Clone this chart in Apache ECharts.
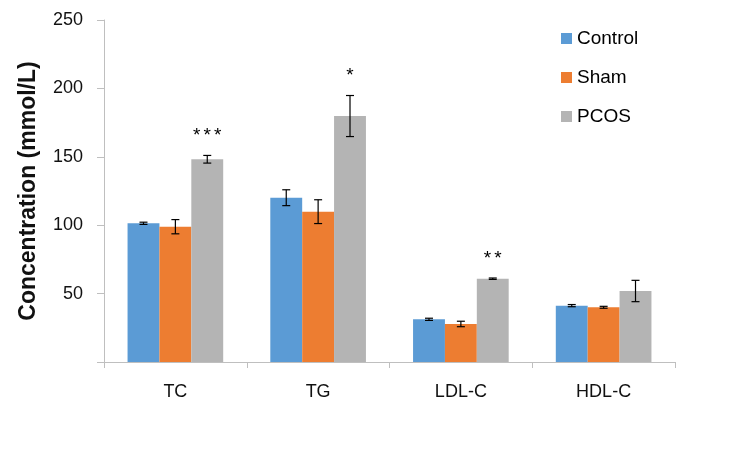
<!DOCTYPE html>
<html><head><meta charset="utf-8">
<script src="https://cdn.jsdelivr.net/npm/echarts@6/dist/echarts.min.js"></script>
<style>html,body{margin:0;padding:0;background:#fff}#c{width:756px;height:450px}</style>
</head><body><div id="c"></div>
<script>
var categories = ['TC', 'TG', 'LDL-C', 'HDL-C'];
var seriesNames = ['Control', 'Sham', 'PCOS'];
var controlVals = [101.4, 120.1, 31.2, 41.2];
var controlErr = [0.8, 5.8, 0.8, 0.8];
var shamVals = [98.9, 109.9, 27.8, 40.0];
var shamErr = [5.2, 8.7, 2.0, 0.7];
var pcosVals = [148.2, 179.8, 60.9, 51.9];
var pcosErr = [2.8, 15.0, 0.5, 7.8];
var sigMarks = ['***', '*', '**', ''];
var yTicks = [0, 50, 100, 150, 200, 250];
var colors = ['#5B9BD5', '#ED7D31', '#B4B4B4'];
var FONT = 'Liberation Sans';

var vals = [controlVals, shamVals, pcosVals];
var errs = [controlErr, shamErr, pcosErr];
var GAP = 0.33;

function errSeries(si) {
  var data = categories.map(function (c, i) { return [i, vals[si][i], errs[si][i]]; });
  return {
    type: 'custom', name: 'err' + si, z: 5,
    data: data, encode: { x: 0, y: 1 },
    renderItem: function (params, api) {
      var idx = api.value(0), v = api.value(1), e = api.value(2);
      var c = api.coord([idx, v]);
      var bw = api.size([1, 0])[0];
      var barW = bw * (1 - GAP) / 3;
      var cx = c[0] + (si - 1) * barW;
      var yt = api.coord([idx, v + e])[1];
      var yb = api.coord([idx, v - e])[1];
      var cap = 4;
      var st = { stroke: '#000', lineWidth: 1.2 };
      return { type: 'group', children: [
        { type: 'line', shape: { x1: cx, y1: yt, x2: cx, y2: yb }, style: st },
        { type: 'line', shape: { x1: cx - cap, y1: yt, x2: cx + cap, y2: yt }, style: st },
        { type: 'line', shape: { x1: cx - cap, y1: yb, x2: cx + cap, y2: yb }, style: st }
      ]};
    }
  };
}

var sigData = categories.map(function (c, i) { return [i, pcosVals[i] + pcosErr[i], sigMarks[i]]; });

var option = {
  animation: false,
  color: colors,
  textStyle: { fontFamily: FONT },
  grid: { left: 104, right: 81, top: 20, bottom: 88, containLabel: false },
  legend: {
    data: seriesNames, orient: 'vertical', left: 556, top: 24,
    itemWidth: 11, itemHeight: 11, itemGap: 20, itemTextGap: 5, icon: 'rect',
    textStyle: { fontSize: 19, color: '#000', fontFamily: FONT }
  },
  xAxis: {
    type: 'category', data: categories,
    axisLine: { lineStyle: { color: '#BFBFBF', width: 1 } },
    axisTick: { show: true, length: 6, lineStyle: { color: '#BFBFBF' } },
    axisLabel: { fontSize: 18, color: '#111', margin: 21, fontFamily: FONT }
  },
  yAxis: {
    type: 'value', min: yTicks[0], max: yTicks[yTicks.length - 1], interval: 50,
    name: 'Concentration (mmol/L)', nameLocation: 'middle', nameGap: 64, nameRotate: 90,
    nameTextStyle: { fontSize: 23, fontWeight: 'bold', color: '#111', fontFamily: FONT },
    axisLine: { show: true, lineStyle: { color: '#BFBFBF' } },
    axisTick: { show: true, length: 7, lineStyle: { color: '#BFBFBF' } },
    splitLine: { show: false },
    axisLabel: { fontSize: 18, color: '#111', margin: 21, fontFamily: FONT,
      formatter: function (v) { return v === 0 ? '' : String(v); } }
  },
  series: [
    { type: 'bar', name: seriesNames[0], data: controlVals, barGap: '0%', barCategoryGap: '33%' },
    { type: 'bar', name: seriesNames[1], data: shamVals, barGap: '0%', barCategoryGap: '33%' },
    { type: 'bar', name: seriesNames[2], data: pcosVals, barGap: '0%', barCategoryGap: '33%' },
    errSeries(0), errSeries(1), errSeries(2),
    {
      type: 'custom', name: 'sig', z: 6, data: sigData, encode: { x: 0, y: 1 },
      renderItem: function (params, api) {
        var idx = api.value(0);
        var top = api.coord([idx, api.value(1)]);
        var bw = api.size([1, 0])[0];
        var barW = bw * (1 - GAP) / 3;
        var s = sigMarks[idx];
        var n = s.length, step = 10.5;
        var children = [];
        for (var k = 0; k < n; k++) {
          children.push({ type: 'text', style: {
            x: top[0] + barW + (k - (n - 1) / 2) * step, y: top[1] - 10, text: s.charAt(k),
            textAlign: 'center', textVerticalAlign: 'bottom',
            fontSize: 19, fontFamily: FONT, fill: '#000'
          }});
        }
        return { type: 'group', children: children };
      }
    }
  ]
};
var chart = echarts.init(document.getElementById('c'), null, { renderer: 'canvas' });
chart.setOption(option);
</script></body></html>
